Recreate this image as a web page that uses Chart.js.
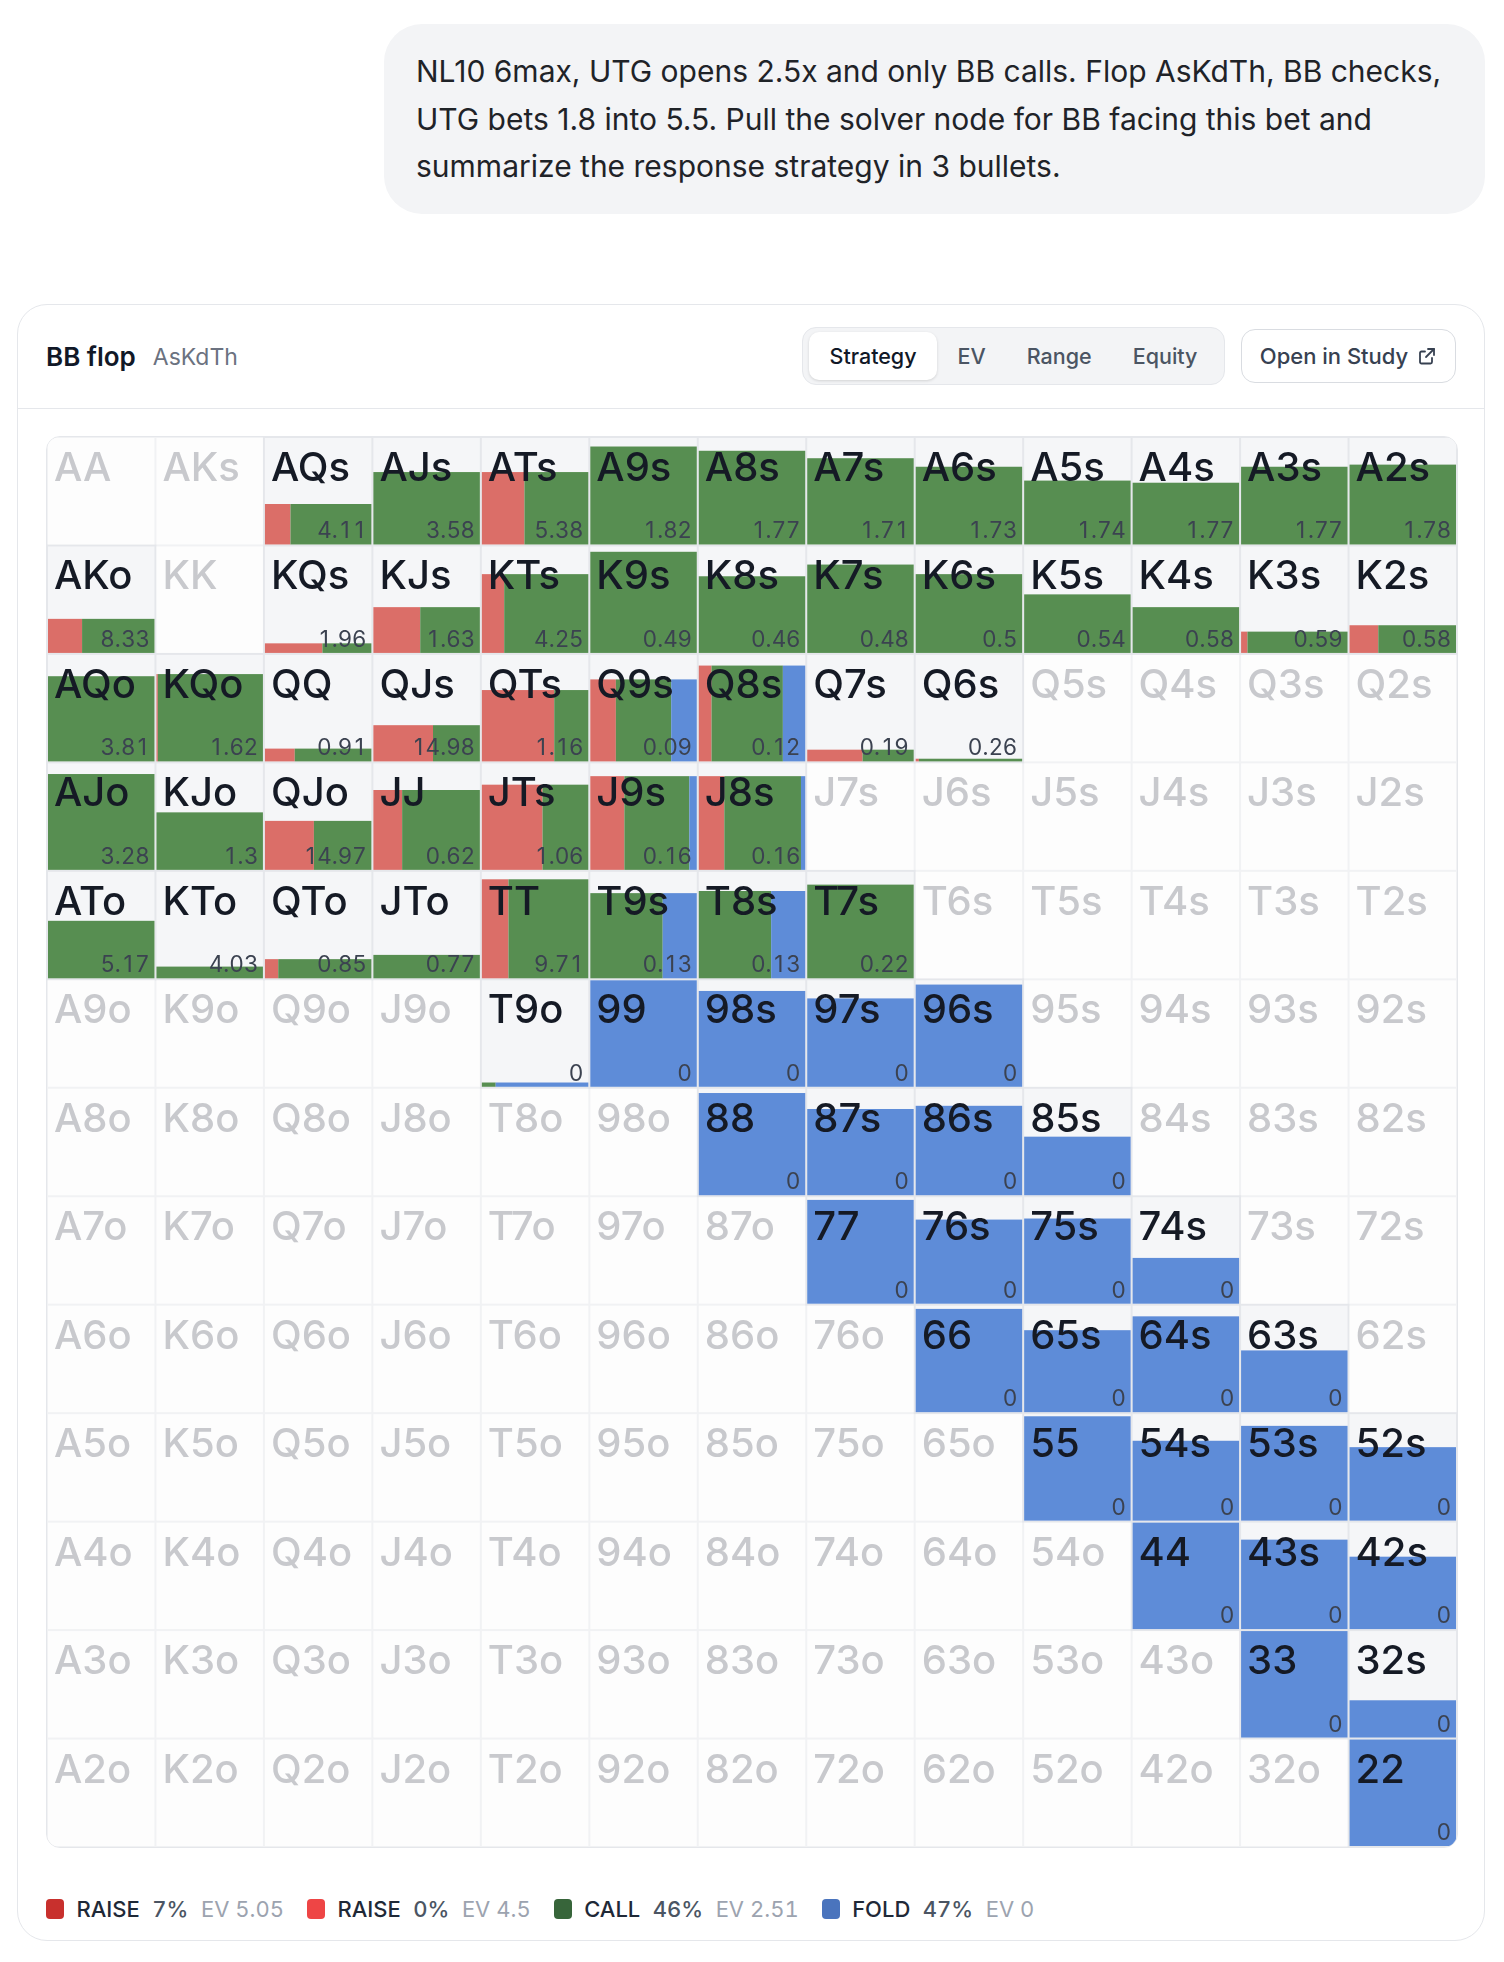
<!DOCTYPE html>
<html>
<head>
<meta charset="utf-8">
<script src="https://cdn.jsdelivr.net/npm/chart.js@4.4.1/dist/chart.umd.min.js"></script>
<style>
  html, body { margin: 0; padding: 0; background: #ffffff; }
  body { width: 1504px; height: 1962px; position: relative; font-family: Inter, "Noto Sans", sans-serif; overflow: hidden; }
  .bubble { position: absolute; left: 384px; top: 24px; width: 1101px; height: 190px; box-sizing: border-box;
    background: #f3f4f6; border-radius: 38px; padding: 24px 0 0 32px; font-size: 30px; line-height: 47.5px; color: #1f2328; white-space: nowrap; }
  .card { position: absolute; left: 17px; top: 304px; width: 1468px; height: 1637px; box-sizing: border-box;
    border: 1.5px solid #e5e7eb; border-radius: 30px; background: #fff; }
  .hdr { position: absolute; left: 0; top: 0; right: 0; height: 103px; border-bottom: 1.5px solid #e5e7eb; }
  .title { position: absolute; left: 28px; top: 0; height: 103px; display: flex; align-items: center; gap: 17px; }
  .title b { font-size: 26px; font-weight: 600; color: #111827; }
  .title span { font-size: 23px; color: #6b7280; }
  .seg { position: absolute; left: 784px; top: 22px; height: 58px; box-sizing: border-box; display: flex; align-items: center;
    background: #f3f4f6; border: 1.5px solid #e5e7eb; border-radius: 14px; padding: 0 6px; }
  .seg div { height: 48px; line-height: 48px; padding: 0 20.5px; font-size: 21.5px; font-weight: 500; color: #4b5563; border-radius: 10px; }
  .seg div.on { background: #fff; color: #111827; box-shadow: 0 1px 3px rgba(0,0,0,0.14); }
  .open { position: absolute; left: 1223px; top: 24px; width: 215px; height: 54px; box-sizing: border-box;
    border: 1.5px solid #d9dce1; border-radius: 14px; display: flex; align-items: center; justify-content: center; gap: 9px;
    font-size: 22px; font-weight: 500; color: #374151; }
  .gridbox { position: absolute; left: 46px; top: 436px; width: 1412px; height: 1412px; box-sizing: border-box;
    border: 1px solid #e5e7eb; border-radius: 14px; overflow: hidden; background: #fcfcfd; }
  .legend { position: absolute; left: 46px; top: 1894px; height: 30px; display: flex; align-items: center; gap: 23px; font-size: 22px; font-variant-numeric: tabular-nums; }
  .li { display: flex; align-items: center; gap: 12.5px; }
  .sw { width: 18px; height: 20px; border-radius: 4px; }
  .li .a { font-weight: 500; color: #1f2937; }
  .li .p { color: #4b5563; font-weight: 500; }
  .li .e { color: #9ca3af; }
</style>
</head>
<body>
<div class="bubble">NL10 6max, UTG opens 2.5x and only BB calls. Flop AsKdTh, BB checks,<br>UTG bets 1.8 into 5.5. Pull the solver node for BB facing this bet and<br>summarize the response strategy in 3 bullets.</div>

<div class="card">
  <div class="hdr">
    <div class="title"><b>BB flop</b><span>AsKdTh</span></div>
    <div class="seg"><div class="on">Strategy</div><div>EV</div><div>Range</div><div>Equity</div></div>
    <div class="open">Open in Study
      <svg width="20" height="20" viewBox="0 0 20 20" fill="none" stroke="#374151" stroke-width="1.8" stroke-linecap="round" stroke-linejoin="round">
        <path d="M11 3h6v6"/><path d="M17 3l-8 8"/><path d="M15 12v4a1.5 1.5 0 0 1-1.5 1.5h-9A1.5 1.5 0 0 1 3 16V7a1.5 1.5 0 0 1 1.5-1.5H8"/>
      </svg>
    </div>
  </div>
</div>

<div class="gridbox"><canvas id="grid" width="1410" height="1410"></canvas></div>

<div class="legend" id="legend"></div>

<script>
// ---- data ----
const RANKS = ['A','K','Q','J','T','9','8','7','6','5','4','3','2'];

// share of each hand's combos in BB's range (%), null = not in range
const FREQ = [
  [null,null,38,68,68,92,88,81,73,60,58,73,75],
  [32,null,9,43,74,95,72,83,74,55,43,20,26],
  [80,82,12,34,67,77,90,11,2.5,null,null,null,null],
  [90,54,46,75,80,88,88,null,null,null,null,null,null],
  [54,11,18,22,93,80,82,88,null,null,null,null,null],
  [null,null,null,null,4,100,90,83,96,null,null,null,null],
  [null,null,null,null,null,null,96,81,84,55,null,null,null],
  [null,null,null,null,null,null,null,97.5,79,80,43,null,null],
  [null,null,null,null,null,null,null,null,97,77,90,58,null],
  [null,null,null,null,null,null,null,null,null,98,75,89,69],
  [null,null,null,null,null,null,null,null,null,null,100,84,68],
  [null,null,null,null,null,null,null,null,null,null,null,100,35],
  [null,null,null,null,null,null,null,null,null,null,null,null,100]
];

// action mix (% of the hand's frequency)
const RAISE = [
  [null,null,24,0,40,0,0,0,0,0,0,0,0],
  [32,null,54,44,21,0,0,0,0,0,0,6,27],
  [0,1.3,28,56,68,24,12,52,3,null,null,null,null],
  [0,0,46,27,57,32,24,null,null,null,null,null,null],
  [0,0,12.5,0,25,0,0,0,null,null,null,null,null],
  [null,null,null,null,0,0,0,0,0,null,null,null,null],
  [null,null,null,null,null,null,0,0,0,0,null,null,null],
  [null,null,null,null,null,null,null,0,0,0,0,null,null],
  [null,null,null,null,null,null,null,null,0,0,0,0,null],
  [null,null,null,null,null,null,null,null,null,0,0,0,0],
  [null,null,null,null,null,null,null,null,null,null,0,0,0],
  [null,null,null,null,null,null,null,null,null,null,null,0,0],
  [null,null,null,null,null,null,null,null,null,null,null,null,0]
];
const CALL = [
  [null,null,76,100,60,100,100,100,100,100,100,100,100],
  [68,null,46,56,79,100,100,100,100,100,100,94,73],
  [100,98.7,72,44,32,52,67,48,97,null,null,null,null],
  [100,100,54,73,43,61,72,null,null,null,null,null,null],
  [100,100,87.5,100,75,68,68,100,null,null,null,null,null],
  [null,null,null,null,13,0,0,0,0,null,null,null,null],
  [null,null,null,null,null,null,0,0,0,0,null,null,null],
  [null,null,null,null,null,null,null,0,0,0,0,null,null],
  [null,null,null,null,null,null,null,null,0,0,0,0,null],
  [null,null,null,null,null,null,null,null,null,0,0,0,0],
  [null,null,null,null,null,null,null,null,null,null,0,0,0],
  [null,null,null,null,null,null,null,null,null,null,null,0,0],
  [null,null,null,null,null,null,null,null,null,null,null,null,0]
];
const FOLD = [
  [null,null,0,0,0,0,0,0,0,0,0,0,0],
  [0,null,0,0,0,0,0,0,0,0,0,0,0],
  [0,0,0,0,0,24,21,0,0,null,null,null,null],
  [0,0,0,0,0,7,4,null,null,null,null,null,null],
  [0,0,0,0,0,32,32,0,null,null,null,null,null],
  [null,null,null,null,87,100,100,100,100,null,null,null,null],
  [null,null,null,null,null,null,100,100,100,100,null,null,null],
  [null,null,null,null,null,null,null,100,100,100,100,null,null],
  [null,null,null,null,null,null,null,null,100,100,100,100,null],
  [null,null,null,null,null,null,null,null,null,100,100,100,100],
  [null,null,null,null,null,null,null,null,null,null,100,100,100],
  [null,null,null,null,null,null,null,null,null,null,null,100,100],
  [null,null,null,null,null,null,null,null,null,null,null,null,100]
];
const EV = [
  [null,null,4.11,3.58,5.38,1.82,1.77,1.71,1.73,1.74,1.77,1.77,1.78],
  [8.33,null,1.96,1.63,4.25,0.49,0.46,0.48,0.5,0.54,0.58,0.59,0.58],
  [3.81,1.62,0.91,14.98,1.16,0.09,0.12,0.19,0.26,null,null,null,null],
  [3.28,1.3,14.97,0.62,1.06,0.16,0.16,null,null,null,null,null,null],
  [5.17,4.03,0.85,0.77,9.71,0.13,0.13,0.22,null,null,null,null,null],
  [null,null,null,null,0,0,0,0,0,null,null,null,null],
  [null,null,null,null,null,null,0,0,0,0,null,null,null],
  [null,null,null,null,null,null,null,0,0,0,0,null,null],
  [null,null,null,null,null,null,null,null,0,0,0,0,null],
  [null,null,null,null,null,null,null,null,null,0,0,0,0],
  [null,null,null,null,null,null,null,null,null,null,0,0,0],
  [null,null,null,null,null,null,null,null,null,null,null,0,0],
  [null,null,null,null,null,null,null,null,null,null,null,null,0]
];

const LEGEND_ACTION = ['RAISE','RAISE','CALL','FOLD'];
const LEGEND_PCT = ['7%','0%','46%','47%'];
const LEGEND_EV = ['5.05','4.5','2.51','0'];
const LEGEND_COLOR = ['#c8302d','#ee4545','#37653a','#4a74bd'];

const COL_RAISE = '#db6e68', COL_CALL = '#578e51', COL_FOLD = '#5e8cd8';

function handLabel(r, c) {
  if (r === c) return RANKS[r] + RANKS[c];
  if (r < c) return RANKS[r] + RANKS[c] + 's';
  return RANKS[c] + RANKS[r] + 'o';
}

// legend (HTML text)
const lg = document.getElementById('legend');
LEGEND_ACTION.forEach((a, i) => {
  const d = document.createElement('div');
  d.className = 'li';
  d.innerHTML = '<div class="sw" style="background:' + LEGEND_COLOR[i] + '"></div>' +
    '<span class="a">' + a + '</span><span class="p">' + LEGEND_PCT[i] + '</span><span class="e">EV ' + LEGEND_EV[i] + '</span>';
  lg.appendChild(d);
});

// one point per cell (center), the plugin renders the cell through the scales
const points = [];
for (let r = 0; r < 13; r++) for (let c = 0; c < 13; c++) points.push({ x: c + 0.5, y: r + 0.5, r, c });

// right-aligned text with tabular (fixed-width) digits
function drawTabular(ctx, str, right, base) {
  const dw = ctx.measureText('0').width;
  let xx = right;
  ctx.textAlign = 'center';
  for (let i = str.length - 1; i >= 0; i--) {
    const ch = str[i];
    const w = /[0-9]/.test(ch) ? dw : ctx.measureText(ch).width;
    ctx.fillText(ch, xx - w / 2, base);
    xx -= w;
  }
}

const cellPlugin = {
  id: 'cells',
  beforeDatasetsDraw(chart) {
    const { ctx, scales: { x, y } } = chart;
    ctx.save();
    const box = (r, c) => ({
      x0: x.getPixelForValue(c), x1: x.getPixelForValue(c + 1),
      y0: y.getPixelForValue(r), y1: y.getPixelForValue(r + 1)
    });
    ctx.fillStyle = '#f1f2f4';
    ctx.fillRect(0, 0, chart.width, chart.height);
    ctx.fillStyle = '#e5e7eb';
    for (let r = 0; r < 13; r++) for (let c = 0; c < 13; c++) {
      if (FREQ[r][c] === null) continue;
      const b = box(r, c);
      ctx.fillRect(b.x0 - 1, b.y0 - 1, b.x1 - b.x0 + 2, b.y1 - b.y0 + 2);
    }
    for (let r = 0; r < 13; r++) for (let c = 0; c < 13; c++) {
      const b = box(r, c);
      const ix0 = b.x0 + 1, ix1 = b.x1 - 1, iy0 = b.y0 + 1, iy1 = b.y1 - 1;
      const inRange = FREQ[r][c] !== null;
      ctx.fillStyle = inRange ? '#f5f6f8' : '#fdfdfd';
      ctx.fillRect(ix0, iy0, ix1 - ix0, iy1 - iy0);
      if (inRange) {
        const h = (iy1 - iy0) * FREQ[r][c] / 100;
        const top = iy1 - h;
        const w = ix1 - ix0;
        const e1 = ix0 + w * RAISE[r][c] / 100;
        const e2 = e1 + w * CALL[r][c] / 100;
        const e3 = e2 + w * FOLD[r][c] / 100;
        if (e1 > ix0) { ctx.fillStyle = COL_RAISE; ctx.fillRect(ix0, top, e1 - ix0, h); }
        if (e2 > e1) { ctx.fillStyle = COL_CALL; ctx.fillRect(e1, top, e2 - e1, h); }
        if (e3 > e2) { ctx.fillStyle = COL_FOLD; ctx.fillRect(e2, top, Math.min(e3, ix1) - e2, h); }
      }
      ctx.font = '500 40px Inter';
      ctx.textAlign = 'left';
      ctx.textBaseline = 'alphabetic';
      ctx.fillStyle = inRange ? '#151a25' : '#c8c9cd';
      ctx.fillText(handLabel(r, c), ix0 + 6, b.y0 + 44);
      if (inRange && EV[r][c] !== null) {
        ctx.font = '400 22.5px Inter';
        ctx.fillStyle = '#3b4250';
        drawTabular(ctx, String(EV[r][c]), ix1 - 5, iy1 - 6);
      }
    }
    ctx.restore();
  }
};

function build() {
  new Chart(document.getElementById('grid'), {
    type: 'scatter',
    data: { datasets: [{ data: points, pointRadius: 0, pointHoverRadius: 0 }] },
    options: {
      responsive: false,
      animation: false,
      events: [],
      layout: { padding: 0 },
      plugins: { legend: { display: false }, tooltip: { enabled: false } },
      scales: {
        x: { type: 'linear', min: 0, max: 13, display: false },
        y: { type: 'linear', min: 0, max: 13, reverse: true, display: false }
      }
    },
    plugins: [cellPlugin]
  });
}
if (document.fonts && document.fonts.load) {
  Promise.all([document.fonts.load('500 40px Inter'), document.fonts.load('400 22.5px Inter')]).then(build, build);
} else build();
</script>
</body>
</html>
